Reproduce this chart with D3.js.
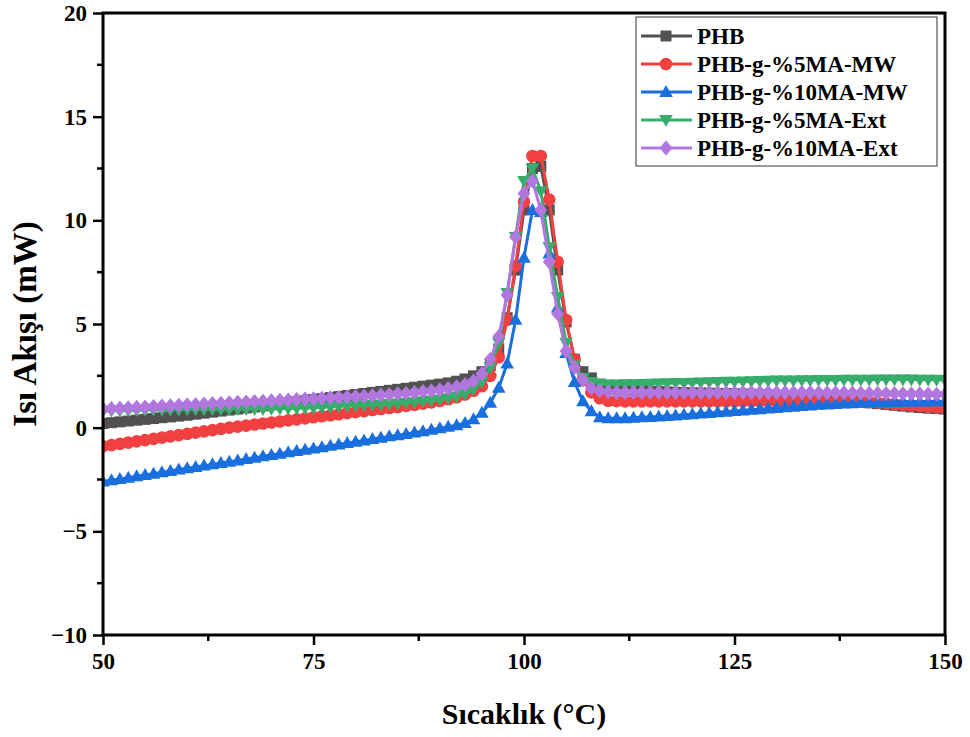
<!DOCTYPE html>
<html>
<head>
<meta charset="utf-8">
<script src="https://d3js.org/d3.v7.min.js"></script>
<style>
  body { margin: 0; background: #fff; }
  text { font-family: "Liberation Serif", "Times New Roman", serif; font-weight: bold; }
</style>
</head>
<body>
<div id="chart"></div>
<script>
// temperatures, 50..150 °C, one reading per degree
var temps = d3.range(50, 151);

var seriesNames = ["PHB", "PHB-g-%5MA-MW", "PHB-g-%10MA-MW", "PHB-g-%5MA-Ext", "PHB-g-%10MA-Ext"];

// heat flow (mW)
var phb = [
  0.20, 0.24, 0.28, 0.32, 0.36, 0.40, 0.44, 0.48, 0.52, 0.56,
  0.60, 0.65, 0.70, 0.75, 0.80, 0.85, 0.90, 0.95, 1.00, 1.05,
  1.10, 1.15, 1.20, 1.25, 1.30, 1.35, 1.40, 1.45, 1.50, 1.55,
  1.60, 1.65, 1.70, 1.75, 1.80, 1.85, 1.90, 1.95, 2.00, 2.05,
  2.10, 2.16, 2.24, 2.35, 2.50, 2.70, 3.00, 3.80, 5.30, 7.60,
  10.5, 12.5, 12.6, 10.5, 7.60, 5.10, 3.30, 2.70, 2.40, 2.10,
  1.90, 1.85, 1.82, 1.80, 1.78, 1.76, 1.74, 1.72, 1.70, 1.69,
  1.68, 1.67, 1.66, 1.65, 1.64, 1.63, 1.62, 1.61, 1.60, 1.58,
  1.56, 1.53, 1.50, 1.47, 1.44, 1.41, 1.38, 1.35, 1.32, 1.28,
  1.24, 1.20, 1.16, 1.12, 1.08, 1.04, 1.00, 0.97, 0.94, 0.92,
  0.90
];
var ma5mw = [
  -0.90, -0.84, -0.78, -0.72, -0.66, -0.60, -0.54, -0.48, -0.42, -0.36,
  -0.30, -0.24, -0.18, -0.12, -0.06, 0.00, 0.05, 0.10, 0.15, 0.20,
  0.25, 0.30, 0.35, 0.40, 0.45, 0.50, 0.55, 0.60, 0.65, 0.70,
  0.75, 0.80, 0.85, 0.90, 0.95, 1.00, 1.05, 1.10, 1.16, 1.22,
  1.29, 1.37, 1.47, 1.60, 1.78, 2.00, 2.50, 3.40, 5.20, 7.80,
  10.9, 13.1, 13.1, 11.0, 8.00, 5.20, 3.30, 2.30, 1.70, 1.42,
  1.30, 1.28, 1.27, 1.27, 1.27, 1.27, 1.27, 1.27, 1.27, 1.27,
  1.27, 1.27, 1.27, 1.27, 1.27, 1.27, 1.27, 1.27, 1.27, 1.27,
  1.27, 1.27, 1.27, 1.27, 1.27, 1.27, 1.27, 1.26, 1.26, 1.26,
  1.25, 1.23, 1.20, 1.17, 1.14, 1.10, 1.07, 1.04, 1.01, 0.98,
  0.95
];
var ma10mw = [
  -2.60, -2.54, -2.47, -2.41, -2.34, -2.28, -2.22, -2.15, -2.09, -2.02,
  -1.96, -1.90, -1.83, -1.77, -1.70, -1.64, -1.58, -1.51, -1.45, -1.38,
  -1.32, -1.26, -1.19, -1.13, -1.06, -1.00, -0.94, -0.87, -0.81, -0.74,
  -0.68, -0.62, -0.55, -0.49, -0.42, -0.36, -0.30, -0.23, -0.17, -0.10,
  -0.03, 0.04, 0.12, 0.22, 0.40, 0.72, 1.20, 1.93, 3.10, 5.20,
  8.20, 10.5, 10.4, 8.40, 5.80, 3.60, 2.20, 1.27, 0.79, 0.50,
  0.45, 0.45, 0.46, 0.48, 0.50, 0.52, 0.54, 0.56, 0.59, 0.62,
  0.65, 0.68, 0.71, 0.74, 0.77, 0.80, 0.83, 0.86, 0.89, 0.92,
  0.95, 0.98, 1.01, 1.04, 1.07, 1.10, 1.12, 1.14, 1.16, 1.18,
  1.20, 1.21, 1.22, 1.23, 1.24, 1.25, 1.25, 1.26, 1.26, 1.27,
  1.27
];
var ma5ext = [
  0.80, 0.81, 0.82, 0.83, 0.84, 0.85, 0.86, 0.86, 0.87, 0.87,
  0.88, 0.88, 0.88, 0.89, 0.89, 0.89, 0.90, 0.90, 0.90, 0.90,
  0.91, 0.92, 0.93, 0.94, 0.95, 0.96, 0.98, 1.00, 1.02, 1.04,
  1.06, 1.08, 1.10, 1.12, 1.14, 1.17, 1.20, 1.23, 1.27, 1.31,
  1.36, 1.42, 1.50, 1.62, 1.85, 2.20, 2.90, 4.10, 6.50, 9.20,
  11.9, 12.5, 11.4, 8.70, 6.30, 4.10, 3.00, 2.40, 2.20, 2.12,
  2.08, 2.08, 2.09, 2.10, 2.11, 2.12, 2.13, 2.14, 2.15, 2.16,
  2.17, 2.18, 2.19, 2.20, 2.21, 2.22, 2.23, 2.24, 2.25, 2.26,
  2.27, 2.28, 2.28, 2.29, 2.29, 2.30, 2.30, 2.30, 2.31, 2.31,
  2.31, 2.31, 2.32, 2.32, 2.32, 2.32, 2.32, 2.31, 2.31, 2.31,
  2.30
];
var ma10ext = [
  0.90, 0.92, 0.94, 0.96, 0.98, 1.00, 1.02, 1.04, 1.06, 1.08,
  1.10, 1.12, 1.14, 1.16, 1.18, 1.20, 1.22, 1.24, 1.26, 1.28,
  1.30, 1.32, 1.34, 1.36, 1.38, 1.40, 1.42, 1.44, 1.46, 1.48,
  1.50, 1.52, 1.54, 1.57, 1.60, 1.63, 1.66, 1.70, 1.74, 1.78,
  1.83, 1.89, 1.97, 2.08, 2.25, 2.60, 3.30, 4.40, 6.40, 9.20,
  11.3, 11.9, 10.5, 8.00, 5.50, 3.70, 2.90, 2.30, 1.90, 1.78,
  1.72, 1.70, 1.70, 1.70, 1.70, 1.70, 1.70, 1.70, 1.70, 1.70,
  1.70, 1.70, 1.70, 1.70, 1.70, 1.70, 1.70, 1.70, 1.70, 1.70,
  1.70, 1.70, 1.70, 1.70, 1.70, 1.69, 1.69, 1.68, 1.68, 1.67,
  1.67, 1.66, 1.66, 1.65, 1.65, 1.64, 1.63, 1.63, 1.62, 1.61,
  1.60
];

var xTicks = [50, 75, 100, 125, 150];
var yTicks = [-10, -5, 0, 5, 10, 15, 20];

var colors = ["#515151", "#F14040", "#1A6FDF", "#37AD6B", "#B177DE"];
var symbols = ["square", "circle", "triangleUp", "triangleDown", "diamond"];

function markerPath(kind) {
  switch (kind) {
    case "square": return "M-5.5,-5.5H5.5V5.5H-5.5Z";
    case "circle": return "M6.3,0A6.3,6.3,0,1,1,-6.3,0A6.3,6.3,0,1,1,6.3,0Z";
    case "triangleUp": return "M0,-7L6.8,5H-6.8Z";
    case "triangleDown": return "M0,7L6.8,-5H-6.8Z";
    case "diamond": return "M0,-7.5L6.5,0L0,7.5L-6.5,0Z";
  }
}

var W = 970, H = 737;
var plot = {left: 103, right: 945, top: 13, bottom: 635};

var x = d3.scaleLinear().domain([50, 150]).range([plot.left, plot.right]);
var y = d3.scaleLinear().domain([-10, 20]).range([plot.bottom, plot.top]);

var svg = d3.select("#chart").append("svg")
  .attr("width", W)
  .attr("height", H);

svg.append("defs").append("clipPath").attr("id", "clip")
  .append("rect")
    .attr("x", plot.left).attr("y", plot.top)
    .attr("width", plot.right - plot.left)
    .attr("height", plot.bottom - plot.top);

var data = [phb, ma5mw, ma10mw, ma5ext, ma10ext];

var line = d3.line()
  .x(function(d, i) { return x(temps[i]); })
  .y(function(d) { return y(d); });

var plotG = svg.append("g").attr("clip-path", "url(#clip)");

data.forEach(function(vals, k) {
  var g = plotG.append("g");
  g.append("path")
    .datum(vals)
    .attr("d", line)
    .attr("fill", "none")
    .attr("stroke", colors[k])
    .attr("stroke-width", 3)
    .attr("stroke-linejoin", "round");
  g.selectAll("path.mk")
    .data(vals)
    .join("path")
      .attr("class", "mk")
      .attr("d", markerPath(symbols[k]))
      .attr("transform", function(d, i) { return "translate(" + x(temps[i]) + "," + y(d) + ")"; })
      .attr("fill", colors[k]);
});

// axes: ticks only on left and bottom, frame on all sides
var xAxis = d3.axisBottom(x).tickValues(xTicks).tickSize(10).tickPadding(8).tickFormat(d3.format("d"));
var yAxis = d3.axisLeft(y).tickValues(yTicks).tickSize(10).tickPadding(6)
  .tickFormat(function(d) { return d < 0 ? "\u2212" + Math.abs(d) : d; });

var gx = svg.append("g").attr("transform", "translate(0," + plot.bottom + ")").call(xAxis);
var gy = svg.append("g").attr("transform", "translate(" + plot.left + ",0)").call(yAxis);

// minor ticks
var xMinor = xTicks.slice(0, -1).map(function(d) { return d + 12.5; });
var yMinor = yTicks.slice(0, -1).map(function(d) { return d + 2.5; });
gx.append("g").selectAll("line").data(xMinor).join("line")
  .attr("x1", d => x(d)).attr("x2", d => x(d))
  .attr("y1", 0).attr("y2", 6)
  .attr("stroke", "#000").attr("stroke-width", 2.5);
gy.append("g").selectAll("line").data(yMinor).join("line")
  .attr("y1", d => y(d)).attr("y2", d => y(d))
  .attr("x1", 0).attr("x2", -6)
  .attr("stroke", "#000").attr("stroke-width", 2.5);

[gx, gy].forEach(function(g) {
  g.select(".domain").remove();
  g.selectAll(".tick line").attr("stroke", "#000").attr("stroke-width", 2.5);
  g.selectAll(".tick text")
    .attr("fill", "#000")
    .style("font-family", "'Liberation Serif', serif")
    .style("font-weight", "bold")
    .style("font-size", "23px");
});

svg.append("rect")
  .attr("x", plot.left).attr("y", plot.top)
  .attr("width", plot.right - plot.left)
  .attr("height", plot.bottom - plot.top)
  .attr("fill", "none")
  .attr("stroke", "#000")
  .attr("stroke-width", 3);

// axis titles
svg.append("text")
  .attr("x", (plot.left + plot.right) / 2)
  .attr("y", 724)
  .attr("text-anchor", "middle")
  .style("font-size", "30px")
  .text("Sıcaklık (°C)");

svg.append("text")
  .attr("transform", "translate(36," + ((plot.top + plot.bottom) / 2) + ") rotate(-90)")
  .attr("text-anchor", "middle")
  .style("font-size", "33px")
  .text("Isı Akışı (mW)");

// legend
var leg = svg.append("g");
leg.append("rect")
  .attr("x", 636).attr("y", 17)
  .attr("width", 301).attr("height", 149)
  .attr("fill", "#fff")
  .attr("stroke", "#333")
  .attr("stroke-width", 1);

seriesNames.forEach(function(name, k) {
  var ly = 36 + k * 28;
  leg.append("line")
    .attr("x1", 641).attr("x2", 692)
    .attr("y1", ly).attr("y2", ly)
    .attr("stroke", colors[k]).attr("stroke-width", 3);
  leg.append("path")
    .attr("d", markerPath(symbols[k]))
    .attr("transform", "translate(666," + ly + ")")
    .attr("fill", colors[k]);
  leg.append("text")
    .attr("x", 697).attr("y", ly)
    .attr("dy", "0.35em")
    .style("font-size", "23px")
    .text(name);
});
</script>
</body>
</html>
